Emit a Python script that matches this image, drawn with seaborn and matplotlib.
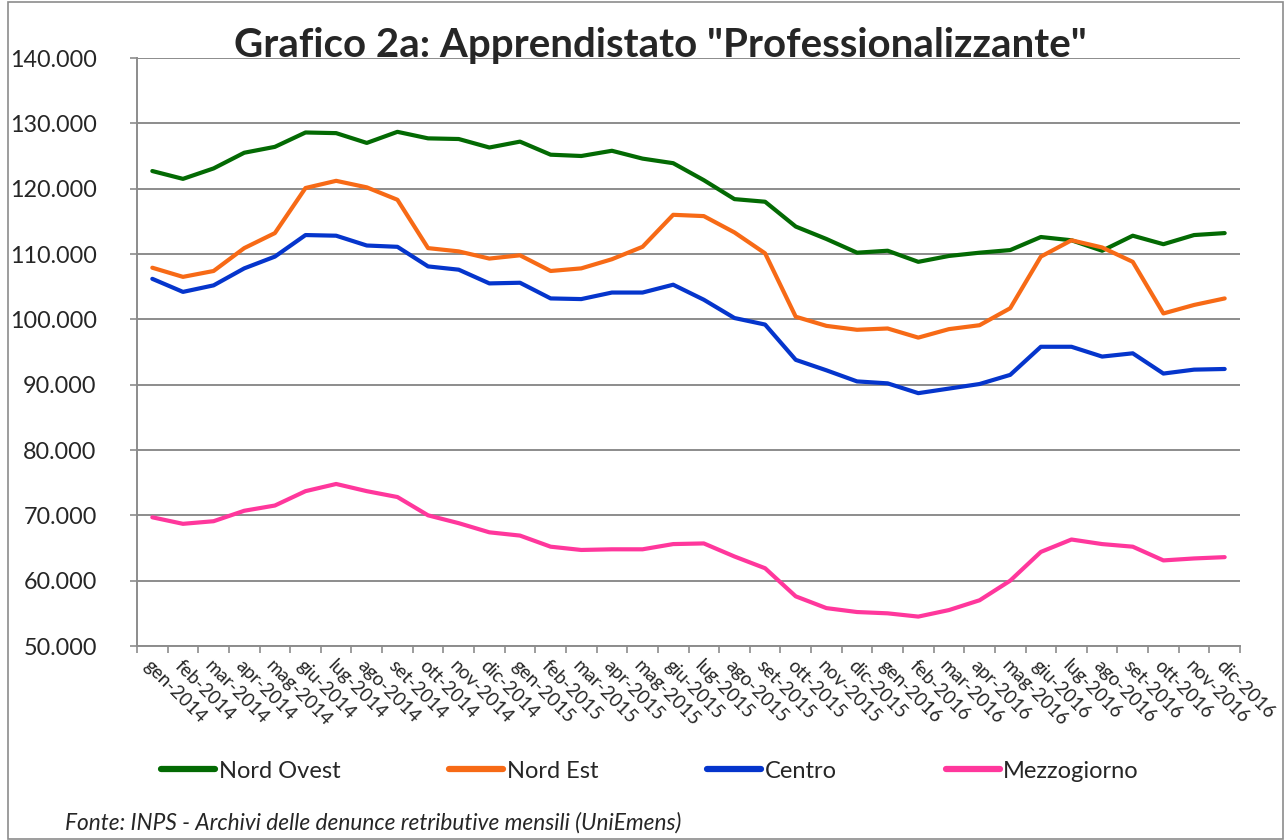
import pandas as pd
import seaborn as sns
import matplotlib.pyplot as plt
from matplotlib.patches import Rectangle

# dati (migliaia)
mesi = ['gen', 'feb', 'mar', 'apr', 'mag', 'giu', 'lug', 'ago', 'set', 'ott', 'nov', 'dic']
etichette = [f"{m}-{a}" for a in (2014, 2015, 2016) for m in mesi]

nord_ovest = [122.7, 121.5, 123.1, 125.5, 126.4, 128.6, 128.5, 127.0, 128.7, 127.7, 127.6, 126.3,
              127.2, 125.2, 125.0, 125.8, 124.6, 123.9, 121.3, 118.4, 118.0, 114.2, 112.3, 110.2,
              110.5, 108.8, 109.7, 110.2, 110.6, 112.6, 112.1, 110.5, 112.8, 111.5, 112.9, 113.2]
nord_est = [107.9, 106.5, 107.4, 110.9, 113.2, 120.1, 121.2, 120.2, 118.3, 110.9, 110.4, 109.3,
            109.8, 107.4, 107.8, 109.2, 111.1, 116.0, 115.8, 113.3, 110.1, 100.4, 99.0, 98.4,
            98.6, 97.2, 98.5, 99.1, 101.7, 109.6, 112.1, 111.0, 108.8, 100.9, 102.2, 103.2]
centro = [106.2, 104.2, 105.2, 107.8, 109.6, 112.9, 112.8, 111.3, 111.1, 108.1, 107.6, 105.5,
          105.6, 103.2, 103.1, 104.1, 104.1, 105.3, 103.0, 100.2, 99.2, 93.8, 92.2, 90.5,
          90.2, 88.7, 89.4, 90.1, 91.5, 95.8, 95.8, 94.3, 94.8, 91.7, 92.3, 92.4]
mezzogiorno = [69.7, 68.7, 69.1, 70.7, 71.5, 73.7, 74.8, 73.7, 72.8, 70.0, 68.8, 67.4,
               66.9, 65.2, 64.7, 64.8, 64.8, 65.6, 65.7, 63.7, 61.9, 57.6, 55.8, 55.2,
               55.0, 54.5, 55.5, 57.0, 60.0, 64.4, 66.3, 65.6, 65.2, 63.1, 63.4, 63.6]

serie = {'Nord Ovest': nord_ovest, 'Nord Est': nord_est, 'Centro': centro, 'Mezzogiorno': mezzogiorno}
colori = {'Nord Ovest': '#036A03', 'Nord Est': '#F76A16', 'Centro': '#0535CC', 'Mezzogiorno': '#FF379C'}

righe = []
for nome, valori in serie.items():
    for i, v in enumerate(valori):
        righe.append({'idx': i, 'valore': v * 1000, 'area': nome})
df = pd.DataFrame(righe)

sns.set_theme(style="white")
plt.rcParams['font.family'] = ['Lato', 'DejaVu Sans']

fig = plt.figure(figsize=(12.87, 8.40), dpi=100)
ax = fig.add_axes([137 / 1287, 1 - 646 / 840, (1240 - 137) / 1287, (646 - 58) / 840])

sns.lineplot(data=df, x='idx', y='valore', hue='area', palette=colori, linewidth=3.0,
             ax=ax, legend=False, solid_joinstyle='round', solid_capstyle='round')

ax.set_xlim(-0.5, 35.5)
ax.set_ylim(50000, 140000)
ax.set_yticks(range(50000, 140001, 10000))
ax.set_yticklabels([f"{v // 1000}.000" for v in range(50000, 140001, 10000)], fontsize=16.8)
ax.yaxis.grid(True, color='#8c8c8c', linewidth=1.4)
ax.set_xticks(range(36))
ax.set_xticklabels(etichette, rotation=-45, ha='left', va='top', rotation_mode='anchor', fontsize=13.5)
ax.set_xticks([x - 0.5 for x in range(37)], minor=True)
ax.tick_params(axis='x', which='major', length=0, pad=8)
ax.tick_params(axis='x', which='minor', length=5, color='#8c8c8c', width=1.2, direction='out', bottom=True)
ax.tick_params(axis='y', length=5, color='#8c8c8c', width=1.2, direction='out', left=True, pad=24)
ax.set_xlabel('')
ax.set_ylabel('')
for lato in ['top', 'right']:
    ax.spines[lato].set_visible(False)
for lato in ['left', 'bottom']:
    ax.spines[lato].set_color('#8c8c8c')
    ax.spines[lato].set_linewidth(1.4)

fig.text(660 / 1287, 1 - 46 / 840, 'Grafico 2a: Apprendistato "Professionalizzante"',
         ha='center', va='center', fontsize=29, fontweight='bold')

maniglie = [plt.Line2D([], [], color=colori[n], linewidth=4.5) for n in serie]
fig.legend(maniglie, list(serie.keys()), loc='center', bbox_to_anchor=(650 / 1287, 1 - 771 / 840),
           ncol=4, frameon=False, fontsize=17, handlelength=2.3, handletextpad=0.15, columnspacing=4.6)

fig.text(65 / 1287, 1 - 823 / 840, 'Fonte: INPS - Archivi delle denunce retributive mensili (UniEmens)',
         ha='left', va='center', fontsize=16.3, style='italic')

fig.patches.append(Rectangle((8 / 1287, 0.001), 1 - 12 / 1287, 0.997, transform=fig.transFigure,
                             fill=False, edgecolor='#8c8c8c', linewidth=1.2))

plt.savefig('out.png', dpi=100)
